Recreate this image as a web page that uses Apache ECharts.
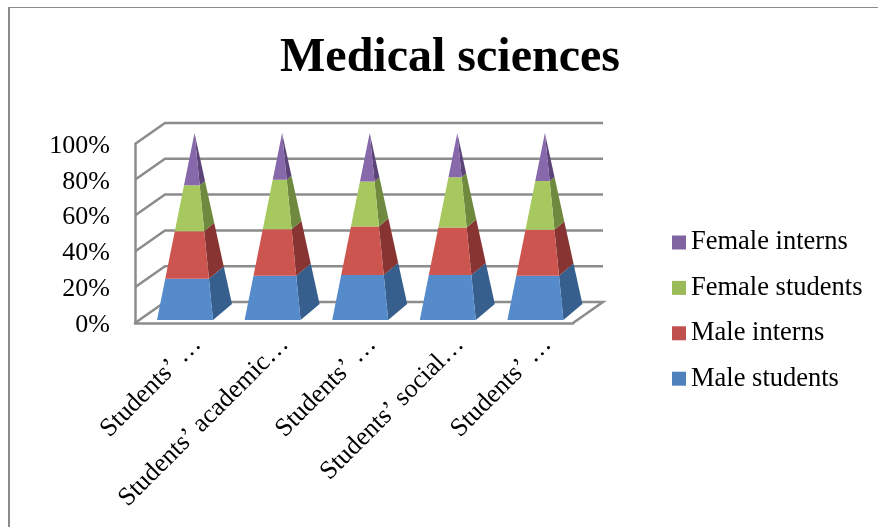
<!DOCTYPE html>
<html><head><meta charset="utf-8">
<style>html,body{margin:0;padding:0;background:#fff}#c{width:878px;height:527px}</style>
<script src="https://cdn.jsdelivr.net/npm/echarts@6/dist/echarts.min.js"></script>
</head><body><div id="c"></div>
<script>
const title = 'Medical sciences';
const categories = ['Students’ …','Students’ academic…','Students’ …','Students’ social…','Students’ …'];
const maleStudents  = [22, 23.7, 24, 24, 23.7];
const maleInterns   = [25.5, 24.8, 26, 25.4, 24.6];
const femaleStudents= [24.5, 26.5, 24, 27, 26];
const femaleInterns = [28, 25, 26, 23.6, 25.7];
const yTicks = [0,20,40,60,80,100];
const FONT = '"Liberation Serif","Times New Roman",serif';

// 3D projection settings (pixels)
const WALL_DX = 30, WALL_DY = -21;
const CENTER_DX = 15.7, CENTER_DY = -11, HALF_W = 28, HALF_DX = 9.5, HALF_DY = -8;

const seriesDefs = [
  {name:'Male students',  values:maleStudents,  front:'#558ACB', side:'#375F8E', legend:'#4F81BD'},
  {name:'Male interns',   values:maleInterns,   front:'#CD5550', side:'#873433', legend:'#C0504D'},
  {name:'Female students',values:femaleStudents,front:'#A6C85F', side:'#6F8A3E', legend:'#9BBB59'},
  {name:'Female interns', values:femaleInterns, front:'#8668AB', side:'#5C4478', legend:'#8064A2'}
];

function pyramidItem(front, side){
  return function(params, api){
    const cat = api.value(0), v0 = api.value(1), v1 = api.value(2);
    const corner = (v, u, w) => {
      const p = api.coord([cat, v]), k = 1 - v/100;
      return [p[0] + CENTER_DX + u*k*HALF_W + w*k*HALF_DX,
              p[1] + CENTER_DY + w*k*HALF_DY];
    };
    const seg = (a,b)=>[corner(v0,a[0],a[1]),corner(v0,b[0],b[1]),corner(v1,b[0],b[1]),corner(v1,a[0],a[1])];
    return {type:'group',children:[
      {type:'polygon',shape:{points:seg([1,-1],[1,1])},style:{fill:side}},
      {type:'polygon',shape:{points:seg([-1,-1],[1,-1])},style:{fill:front}}
    ]};
  };
}
function wallItem(params, api){
  const v = api.value(0), cs = params.coordSys;
  const y = api.coord([0, v])[1], L = cs.x, R = cs.x + cs.width;
  const pts = [[L,y],[L+WALL_DX,y+WALL_DY],[R+WALL_DX,y+WALL_DY]];
  if (v === 0) pts.push([R,y]);
  return {type:'polyline',shape:{points:pts},style:{fill:null,stroke:'#8C8C8C',lineWidth:2.5}};
}

let cum = categories.map(()=>0);
const pyramidSeries = seriesDefs.map(s=>{
  const data = s.values.map((val,i)=>{const r=[i,cum[i],cum[i]+val];cum[i]+=val;return r;});
  return {type:'custom',name:s.name,data,encode:{x:0,y:[1,2]},z:5,
    itemStyle:{color:s.legend},renderItem:pyramidItem(s.front,s.side),silent:true};
});

const chart = echarts.init(document.getElementById('c'),null,{renderer:'canvas'});
chart.setOption({
  animation:false,
  backgroundColor:'#fff',
  title:{text:title,left:445,top:30,textAlign:'center',
    textStyle:{fontFamily:FONT,fontSize:48,fontWeight:'bold',color:'#000'}},
  legend:{orient:'vertical',left:667,top:224,itemWidth:14,itemHeight:14,itemGap:18.4,icon:'rect',
    data:seriesDefs.map(s=>s.name).reverse(),
    textStyle:{fontFamily:FONT,fontSize:26.5,color:'#000'}},
  grid:{left:135,top:144,width:438,height:179,containLabel:false},
  xAxis:{type:'category',data:categories,
    axisLine:{lineStyle:{color:'#8C8C8C',width:2.5}},axisTick:{show:false},
    axisLabel:{interval:0,rotate:45,margin:36,padding:[0,-26,0,0],fontFamily:FONT,fontSize:26,color:'#000'}},
  yAxis:{type:'value',min:0,max:100,interval:20,splitLine:{show:false},
    axisLine:{show:true,lineStyle:{color:'#8C8C8C',width:2.5}},axisTick:{show:false},
    axisLabel:{formatter:'{value}%',margin:25,verticalAlign:'top',lineHeight:26,padding:[-11,0,0,0],fontFamily:FONT,fontSize:26,color:'#000'}},
  graphic:[
    {type:'rect',shape:{x:8,y:7,width:2,height:520},style:{fill:'#8A8A8A'},silent:true},
    {type:'rect',shape:{x:8,y:7,width:870,height:1},style:{fill:'#8A8A8A'},silent:true}
  ],
  series:[{type:'custom',name:'walls',data:yTicks.map(v=>[v]),encode:{y:0},z:1,silent:true,renderItem:wallItem}].concat(pyramidSeries)
});
</script></body></html>
